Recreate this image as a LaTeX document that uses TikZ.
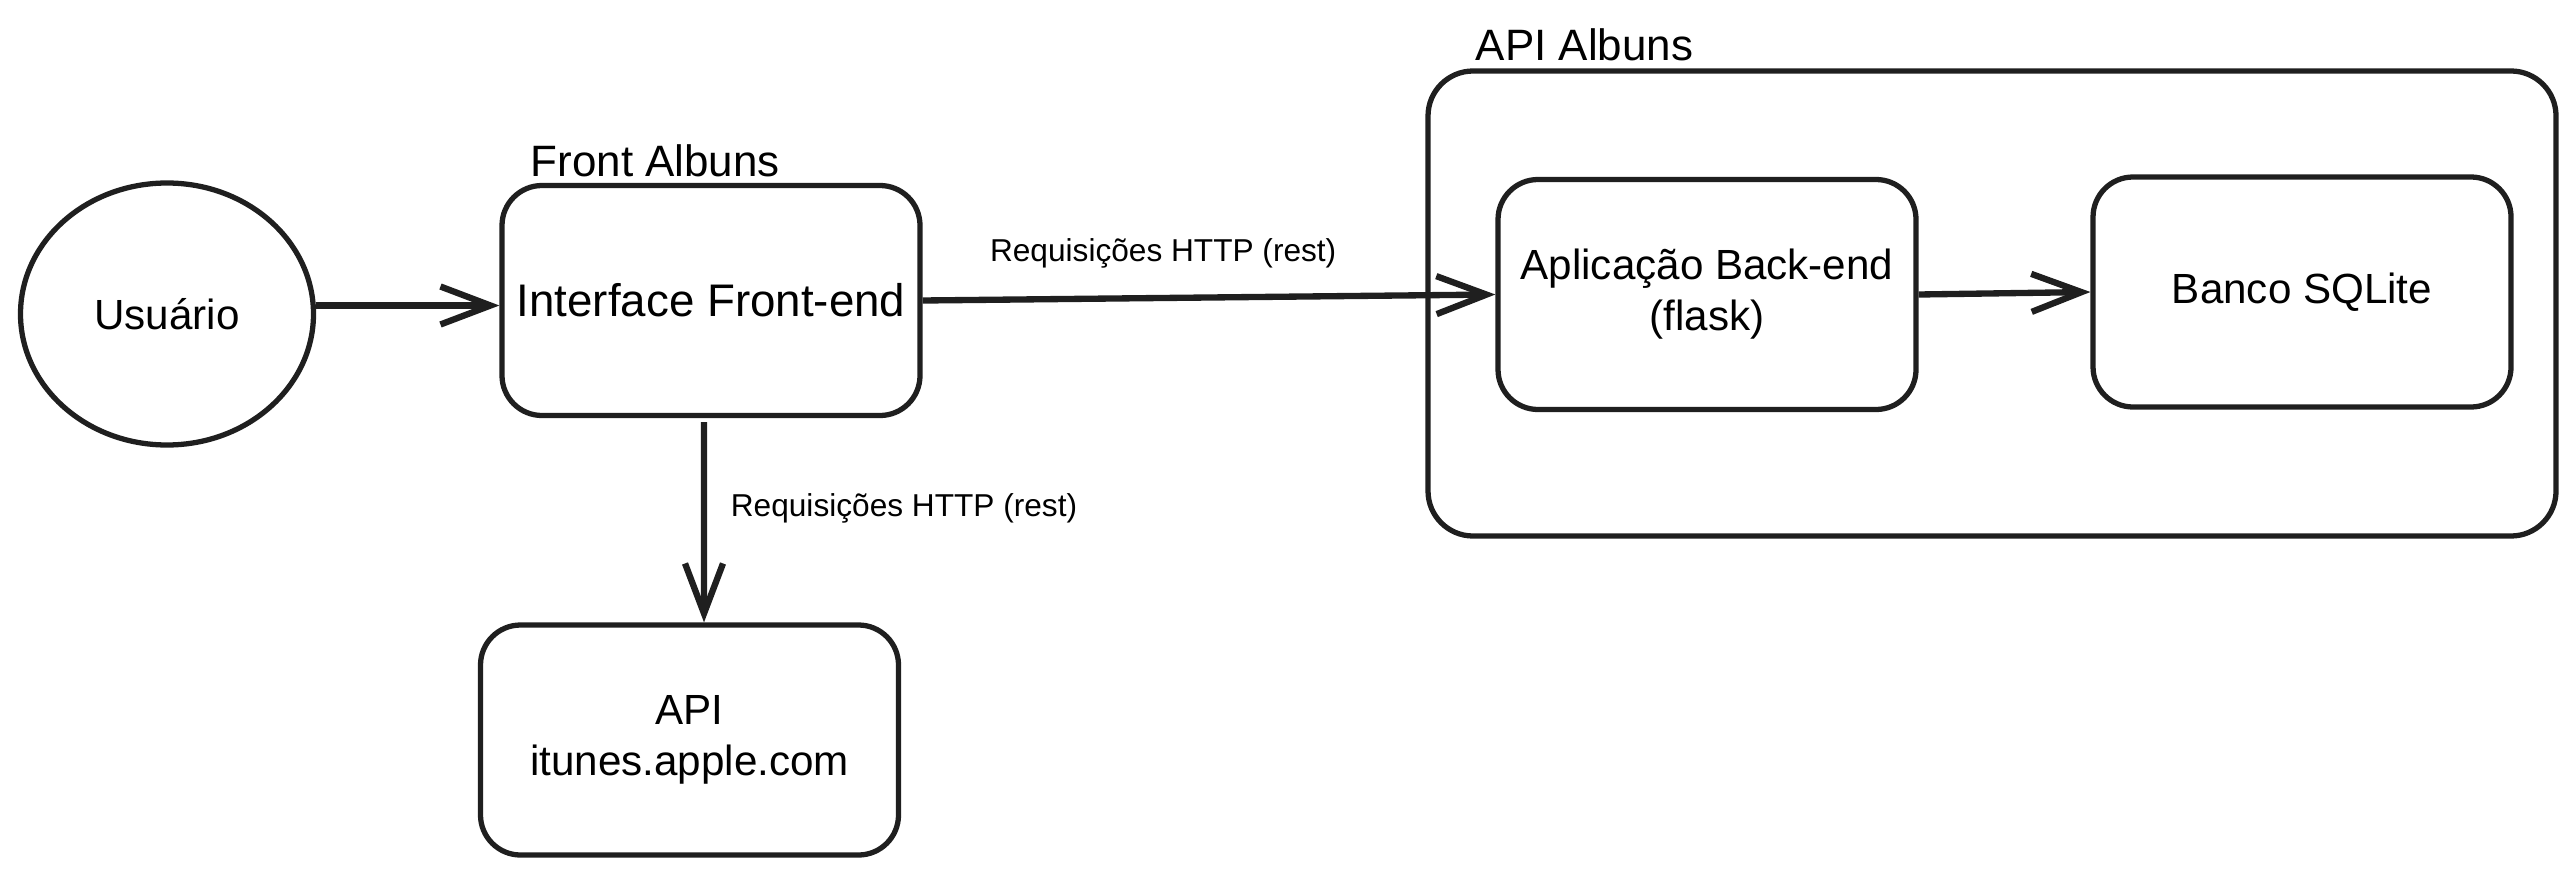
\documentclass[tikz,border=0pt]{standalone}
\usepackage{fontspec}
\setmainfont{Liberation Sans}
\usepackage{tikz}
\usetikzlibrary{arrows.meta,positioning,shapes.geometric}

\begin{document}
\begin{tikzpicture}[
    auto,
    node distance=5.95cm,
    >={Straight Barb[length=5mm,width=3.8mm]},
    font=\fontsize{12}{14.5}\selectfont,
    block/.style={
		rectangle,
		rounded corners=0.4cm,
		draw=black!88,
		line width=1.5pt,
		text centered,
		align=center,
		minimum width=4.18cm,
		minimum height=2.3cm,
		fill=white
	},
	group/.style={
		rectangle,
		rounded corners=0.45cm,
		draw=black!88,
		line width=1.5pt,
		minimum width=11.28cm,
		minimum height=4.65cm
	},
	user/.style={
		ellipse,
		draw=black!88,
		line width=1.5pt,
		minimum width=2.93cm,
		minimum height=2.62cm
	},
	title/.style={
		anchor=west,
		inner sep=0pt,
		font=\fontsize{12.5}{15}\selectfont
	},
	flow/.style={
		->,
		draw=black!88,
		line width=1.8pt
	},
	edgelabel/.style={
		font=\fontsize{9}{11}\selectfont
	}
  ]
  \useasboundingbox (0,0) rectangle (25.76,-8.75);

    % We start by placing the blocks
  \node [group] (apialbuns) at (19.92,-3.035) {};
  \node [title] (apititle) at (14.75,-0.45) {API Albuns};

  \node [user] (user) at (1.67,-3.14) {Usuário};

  \node [block, font=\fontsize{13}{15}\selectfont] (front) at (7.11,-3.005) {Interface Front-end};
  \node [title] (fronttitle) at (5.30,-1.61) {Front Albuns};

  \node [block, below of=front, node distance=4.395cm, xshift=-0.215cm] (itunes)
 {API\\itunes.apple.com};

  \node [block] (backend) at (17.07,-2.945)
 {Aplicação Back-end\\(flask)};

  \node [block, right of=backend, yshift=0.025cm] (sqlite) {Banco SQLite};

 \draw [flow] (user.east |- front.west) ++(0,-0.05) coordinate (userout) -- (userout -| front.west);
 \draw [flow] (front.east) -- node [edgelabel, above=0.15cm, pos=0.42] {Requisições HTTP (rest)} (backend.west);
 \draw [flow] ([xshift=-0.07cm,yshift=-0.04cm]front.south) -- node [edgelabel, right=0.12cm, pos=0.43] {Requisições HTTP (rest)} ([xshift=0.145cm]itunes.north);
 \draw [flow] (backend.east) -- (sqlite.west);

\end{tikzpicture}
\end{document}
